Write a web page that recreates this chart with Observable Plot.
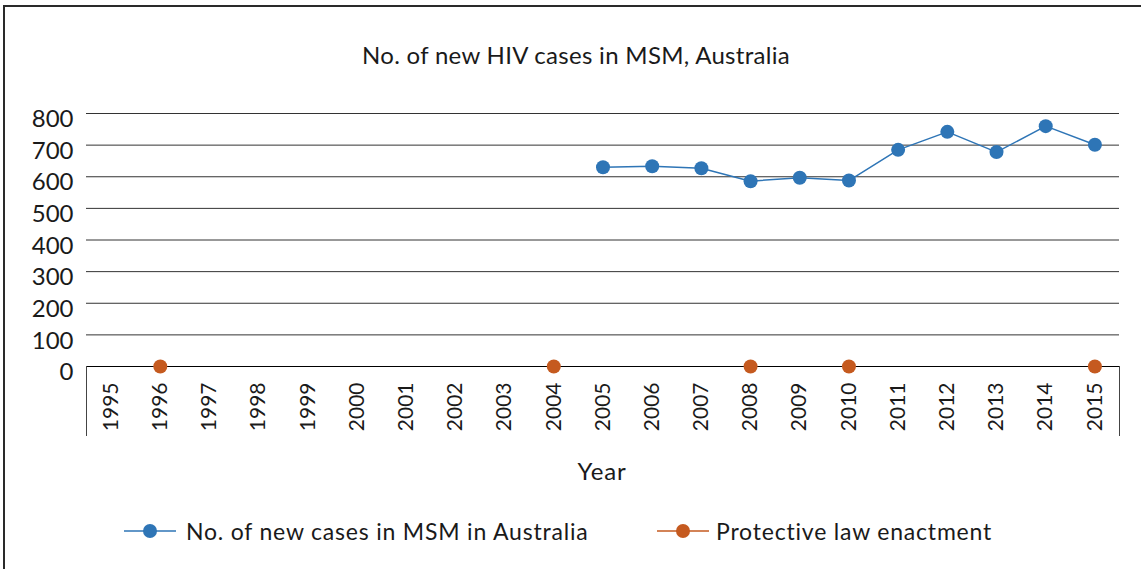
<!DOCTYPE html>
<html><head><meta charset="utf-8">
<script src="https://cdn.jsdelivr.net/npm/d3@7"></script>
<script src="https://cdn.jsdelivr.net/npm/@observablehq/plot@0.6"></script>
<style>
html,body{margin:0;padding:0;background:#fff;}
#wrap{position:relative;width:1141px;height:569px;overflow:hidden;font-family:Lato,"Open Sans",sans-serif;color:#1a1a1a;background:#fff;}
#frame{position:absolute;left:3px;top:5px;width:1200px;height:600px;border-left:2px solid #2a2a2a;border-top:2px solid #2a2a2a;}
#title{position:absolute;left:0;width:1152px;top:40px;text-align:center;font-size:24px;letter-spacing:0.3px;}
#xlabel{position:absolute;left:0;width:1204px;top:456px;text-align:center;font-size:24px;letter-spacing:0.8px;}
#chart{position:absolute;left:0;top:0;}
.leg{position:absolute;top:517px;font-size:23px;letter-spacing:0.8px;white-space:nowrap;}
.legsym{position:absolute;top:523px;}
</style></head>
<body><div id="wrap"><div id="frame"></div><div id="chart"></div>
<div id="title">No. of new HIV cases in MSM, Australia</div>
<div id="xlabel">Year</div>
<div id="legend"></div>
</div>
<script>
const years = d3.range(1995, 2016);
const caseYears = [2005,2006,2007,2008,2009,2010,2011,2012,2013,2014,2015];
const caseValues = [630,633,627,586,597,588,685,742,678,760,701];
const lawYears = [1996,2004,2008,2010,2015];
const lawValues = [0,0,0,0,0];
const yTicks = [0,100,200,300,400,500,600,700,800];
const seriesNames = ["No. of new cases in MSM in Australia","Protective law enactment"];
const seriesColors = ["#2E75B6","#C55A1F"];

const cases = caseYears.map((y,i)=>({year:y, value:caseValues[i]}));
const laws = lawYears.map((y,i)=>({year:y, value:lawValues[i]}));

const chart = Plot.plot({
  width:1141, height:569,
  marginLeft:86, marginRight:22, marginTop:113, marginBottom:203,
  style:{fontFamily:"Lato, 'Open Sans', sans-serif", color:"#1a1a1a", background:"transparent"},
  x:{type:"linear", domain:[1994.5, 2015.5]},
  y:{domain:[0,800]},
  marks:[
    Plot.ruleY(yTicks.filter(d=>d>0), {stroke:"#333", strokeWidth:1}),
    Plot.ruleY([0], {stroke:"#000", strokeWidth:1.2}),
    Plot.axisY({ticks:yTicks, tickSize:0, tickPadding:13, fontSize:24, dy:6, label:null}),
    Plot.axisX({ticks:[1994.5, 2015.5], tickSize:70, tickFormat:()=>"", stroke:"#444", label:null}),
    Plot.axisX({ticks:years, tickSize:0, tickPadding:16, tickRotate:-90, fontSize:21, tickFormat:d=>String(d), label:null}),
    Plot.line(cases, {x:"year", y:"value", stroke:seriesColors[0], strokeWidth:1.5}),
    Plot.dot(cases, {x:"year", y:"value", fill:seriesColors[0], r:7}),
    Plot.dot(laws, {x:"year", y:"value", fill:seriesColors[1], r:7})
  ]
});
document.getElementById("chart").appendChild(chart);

const legend = document.getElementById("legend");
const symLefts = [124, 657];
const textLefts = [186, 716];
seriesNames.forEach((name,i)=>{
  const s = document.createElement("div");
  s.className = "legsym";
  s.style.left = symLefts[i] + "px";
  s.innerHTML = `<svg width="52" height="16" style="display:block"><line x1="0" y1="8" x2="52" y2="8" stroke="${seriesColors[i]}" stroke-width="1.5"/><circle cx="26" cy="8" r="7" fill="${seriesColors[i]}"/></svg>`;
  legend.appendChild(s);
  const t = document.createElement("div");
  t.className = "leg";
  t.style.left = textLefts[i] + "px";
  t.textContent = name;
  legend.appendChild(t);
});
</script>
</body></html>
